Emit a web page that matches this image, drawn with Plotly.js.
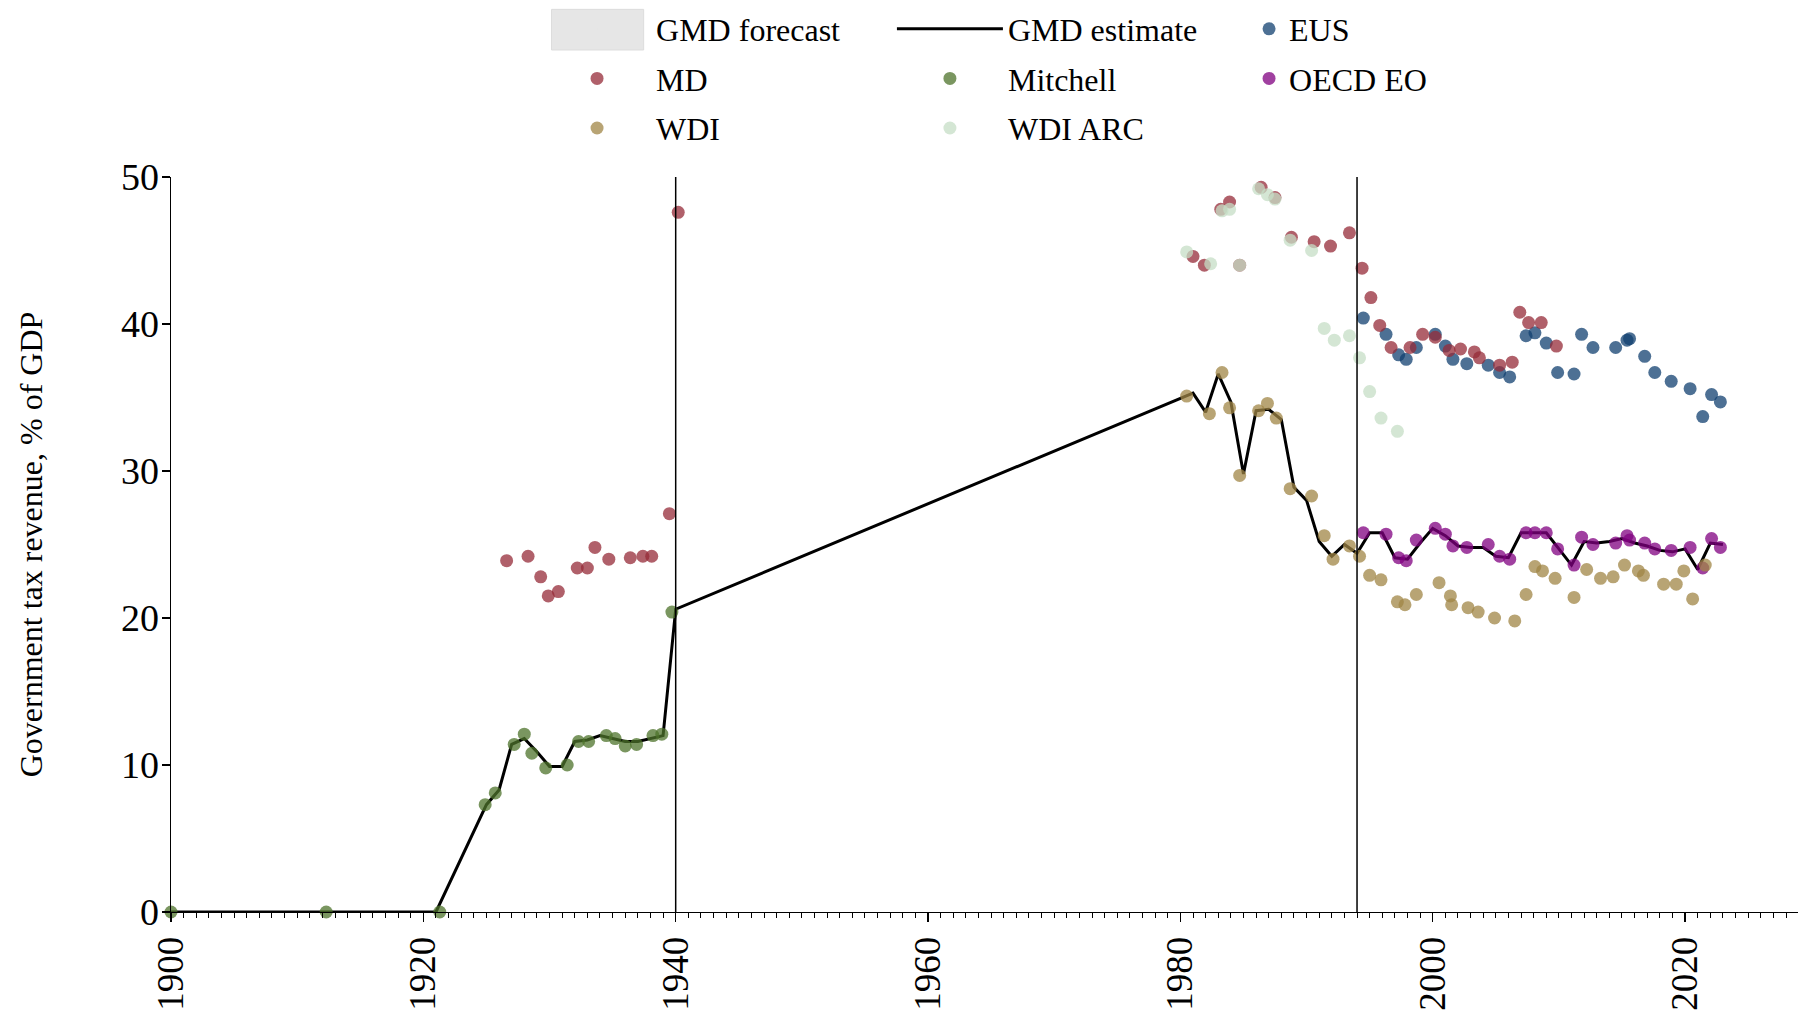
<!DOCTYPE html>
<html><head><meta charset="utf-8">
<script src="https://cdn.plot.ly/plotly-3.0.1.min.js"></script>
<style>html,body{margin:0;padding:0;background:#fff;} #chart{width:1798px;height:1017px;}</style>
</head><body><div id="chart"></div>
<script>
// ---- GMD estimate (line)
const gmdYear = [1900, 1912, 1921, 1925, 1926, 1927, 1928, 1929, 1930, 1931, 1932, 1933, 1934, 1935, 1936, 1937, 1938, 1939, 1940,
  1981, 1982, 1983, 1984, 1985, 1986, 1987, 1988, 1989, 1990, 1991, 1992, 1993, 1994, 1995, 1996, 1997, 1998, 1999,
  2000, 2001, 2002, 2003, 2004, 2005, 2006, 2007, 2008, 2009, 2010, 2011, 2012, 2013, 2014, 2015, 2016, 2017, 2018,
  2019, 2020, 2021, 2022, 2023];
const gmdVal = [0, 0, 0, 7.3, 8.3, 11.4, 11.8, 10.9, 9.9, 9.9, 11.6, 11.7, 12.0, 11.8, 11.6, 11.6, 11.8, 12.0, 20.6,
  35.3, 34.0, 36.6, 34.7, 29.8, 34.1, 34.2, 33.5, 28.9, 28.0, 25.2, 24.2, 25.0, 24.4, 25.8, 25.8, 24.1, 24.0, 25.1,
  26.1, 25.6, 24.9, 24.8, 24.8, 24.2, 24.1, 25.8, 25.8, 25.8, 24.7, 23.6, 25.2, 25.1, 25.2, 25.4, 25.1, 24.9, 24.6,
  24.5, 24.7, 23.3, 25.1, 25.0];

// ---- EUS
const eusYear = [1994.5, 1996.3, 1997.3, 1997.9, 1998.7, 2000.2, 2001.0, 2001.6, 2002.7, 2004.4, 2005.3, 2006.1, 2007.4,
  2008.1, 2009.0, 2009.9, 2011.2, 2011.8, 2012.7, 2014.5, 2015.4, 2015.6, 2016.8, 2017.6, 2018.9, 2020.4, 2021.4, 2022.1, 2022.8];
const eusVal = [40.4, 39.3, 37.9, 37.6, 38.4, 39.3, 38.5, 37.6, 37.3, 37.2, 36.7, 36.4, 39.2,
  39.4, 38.7, 36.7, 36.6, 39.3, 38.4, 38.4, 38.9, 39.0, 37.8, 36.7, 36.1, 35.6, 33.7, 35.2, 34.7];

// ---- MD
const mdYear = [1926.6, 1928.3, 1929.3, 1929.9, 1930.7, 1932.2, 1933.0, 1933.6, 1934.7, 1936.4, 1937.4, 1938.1, 1939.5, 1940.2,
  1981.0, 1981.9, 1983.2, 1983.9, 1984.7, 1986.4, 1987.5, 1988.8, 1990.6, 1991.9, 1993.4, 1994.4, 1995.1, 1995.8,
  1996.7, 1998.2, 1999.2, 2000.2, 2001.3, 2002.2, 2003.3, 2003.7, 2005.3, 2006.3, 2006.9, 2007.6, 2008.6, 2009.8];
const mdVal = [23.9, 24.2, 22.8, 21.5, 21.8, 23.4, 23.4, 24.8, 24.0, 24.1, 24.2, 24.2, 27.1, 47.6,
  44.6, 44.0, 47.8, 48.3, 44.0, 49.3, 48.6, 45.9, 45.6, 45.3, 46.2, 43.8, 41.8, 39.9,
  38.4, 38.4, 39.3, 39.1, 38.2, 38.3, 38.1, 37.7, 37.2, 37.4, 40.8, 40.1, 40.1, 38.5];

// ---- Mitchell
const mitchellYear = [1900, 1912.3, 1921.3, 1924.9, 1925.7, 1927.2, 1928.0, 1928.6, 1929.7, 1931.4, 1932.3, 1933.1,
  1934.5, 1935.2, 1936.0, 1936.9, 1938.2, 1938.9, 1939.7];
const mitchellVal = [0, 0, 0, 7.3, 8.1, 11.4, 12.1, 10.8, 9.8, 10.0, 11.6, 11.6, 12.0, 11.8, 11.3, 11.4, 12.0, 12.1, 20.4];

// ---- OECD EO (same years as EUS)
const oecdYear = [1994.5, 1996.3, 1997.3, 1997.9, 1998.7, 2000.2, 2001.0, 2001.6, 2002.7, 2004.4, 2005.3, 2006.1, 2007.4,
  2008.1, 2009.0, 2009.9, 2011.2, 2011.8, 2012.7, 2014.5, 2015.4, 2015.6, 2016.8, 2017.6, 2018.9, 2020.4, 2021.4, 2022.1, 2022.8];
const oecdVal = [25.8, 25.7, 24.1, 23.9, 25.3, 26.1, 25.7, 24.9, 24.8, 25.0, 24.2, 24.0, 25.8,
  25.8, 25.8, 24.7, 23.6, 25.5, 25.0, 25.1, 25.6, 25.3, 25.1, 24.7, 24.6, 24.8, 23.4, 25.4, 24.8];

// ---- WDI
const wdiYear = [1980.5, 1982.3, 1983.3, 1983.9, 1984.7, 1986.2, 1986.9, 1987.6, 1988.7, 1990.4, 1991.4, 1992.1, 1993.4,
  1994.2, 1995.0, 1995.9, 1997.2, 1997.8, 1998.7, 2000.5, 2001.4, 2001.5, 2002.8, 2003.6, 2004.9, 2006.5, 2007.4,
  2008.1, 2008.7, 2009.7, 2011.2, 2012.2, 2013.3, 2014.3, 2015.2, 2016.3, 2016.7, 2018.3, 2019.3, 2019.9, 2020.6, 2021.6];
const wdiVal = [35.1, 33.9, 36.7, 34.3, 29.7, 34.1, 34.6, 33.6, 28.8, 28.3, 25.6, 24.0, 24.9,
  24.2, 22.9, 22.6, 21.1, 20.9, 21.6, 22.4, 21.5, 20.9, 20.7, 20.4, 20.0, 19.8, 21.6,
  23.5, 23.2, 22.7, 21.4, 23.3, 22.7, 22.8, 23.6, 23.2, 22.9, 22.3, 22.3, 23.2, 21.3, 23.6];

// ---- WDI ARC
const wdiArcYear = [1980.5, 1982.4, 1983.3, 1983.9, 1984.7, 1986.2, 1986.9, 1987.5, 1988.7, 1990.4, 1991.4, 1992.2,
  1993.4, 1994.2, 1995.0, 1995.9, 1997.2];
const wdiArcVal = [44.9, 44.1, 47.7, 47.8, 44.0, 49.2, 48.8, 48.5, 45.7, 45.0, 39.7, 38.9, 39.2, 37.7, 35.4, 33.6, 32.7];

// ---- axes / reference lines
const breakYears = [1940, 1994];
const xRange = [1900, 2028.95];
const yRange = [0, 50];
const xTickStep = 20;
const yTickStep = 10;

const FONT = 'Liberation Serif, Times New Roman, serif';
const MS = 13, OP = 0.75;

function pts(name, x, y, color, legend) {
  return {name: name, x: x, y: y, type: 'scatter', mode: 'markers', cliponaxis: false,
    marker: {color: color, size: MS, opacity: OP, line: {width: 0}},
    legend: legend, legendgroup: name, hoverinfo: 'x+y+name'};
}

const traces = [
  {name: 'GMD forecast', x: [null], y: [null], type: 'scatter', mode: 'markers',
   marker: {color: '#e6e6e6', size: 1, opacity: 0}, legend: 'legend', legendgroup: 'forecast', showlegend: true},
  {name: 'GMD estimate', x: gmdYear, y: gmdVal, type: 'scatter', mode: 'lines',
   line: {color: '#000000', width: 3}, legend: 'legend2', legendgroup: 'estimate'},
  pts('EUS', eusYear, eusVal, '#124070', 'legend3'),
  pts('MD', mdYear, mdVal, '#962b38', 'legend'),
  pts('Mitchell', mitchellYear, mitchellVal, '#4e732b', 'legend2'),
  pts('OECD EO', oecdYear, oecdVal, '#800080', 'legend3'),
  pts('WDI', wdiYear, wdiVal, '#a08646', 'legend'),
  pts('WDI ARC', wdiArcYear, wdiArcVal, '#c5dec5', 'legend2')
];

const shapes = breakYears.map(yr => ({type: 'line', xref: 'x', yref: 'y', x0: yr, x1: yr,
  y0: yRange[0], y1: yRange[1], line: {color: '#000', width: 1.5}, layer: 'above'}));
// legend swatch for the forecast band
shapes.push({type: 'rect', xref: 'paper', yref: 'paper', x0: 0.2339, x1: 0.2905, y0: 1.1728, y1: 1.2281,
  fillcolor: '#e6e6e6', line: {color: '#dcdcdc', width: 1}, layer: 'below'});

const legendBase = {orientation: 'v', xanchor: 'left', yanchor: 'top', y: 1.2388,
  bgcolor: 'rgba(0,0,0,0)', borderwidth: 0, tracegroupgap: 5,
  font: {family: FONT, size: 32, color: '#000'}};

const layout = {
  width: 1798, height: 1017,
  paper_bgcolor: '#ffffff', plot_bgcolor: '#ffffff',
  font: {family: FONT, size: 32, color: '#000'},
  margin: {l: 171, r: 0, t: 177, b: 105, pad: 0},
  showlegend: true,
  legend: Object.assign({}, legendBase, {x: 0.2256, itemwidth: 108}),
  legend2: Object.assign({}, legendBase, {x: 0.4431, itemwidth: 106}),
  legend3: Object.assign({}, legendBase, {x: 0.6626, itemwidth: 30}),
  xaxis: {
    range: xRange, autorange: false, showgrid: false, zeroline: false,
    showline: true, linecolor: '#000', linewidth: 1,
    ticks: 'outside', ticklen: 9, tickwidth: 1.5, tickcolor: '#000',
    tick0: 1900, dtick: xTickStep, tickangle: -90,
    tickfont: {family: FONT, size: 37, color: '#000'},
    minor: {dtick: 1, tick0: 1900, ticks: 'outside', ticklen: 4.5, tickwidth: 1, tickcolor: '#000', showgrid: false}
  },
  yaxis: {
    range: yRange, autorange: false, showgrid: false, zeroline: false,
    showline: true, linecolor: '#000', linewidth: 1.5,
    ticks: 'outside', ticklen: 8, tickwidth: 1.5, tickcolor: '#000',
    tick0: 0, dtick: yTickStep, ticklabelstandoff: -5,
    tickfont: {family: FONT, size: 38, color: '#000'},
    automargin: true,
    title: {text: 'Government tax revenue, % of GDP', standoff: 68, font: {family: FONT, size: 32, color: '#000'}}
  },
  shapes: shapes
};

Plotly.newPlot('chart', traces, layout, {displayModeBar: false, staticPlot: true});
</script></body></html>
